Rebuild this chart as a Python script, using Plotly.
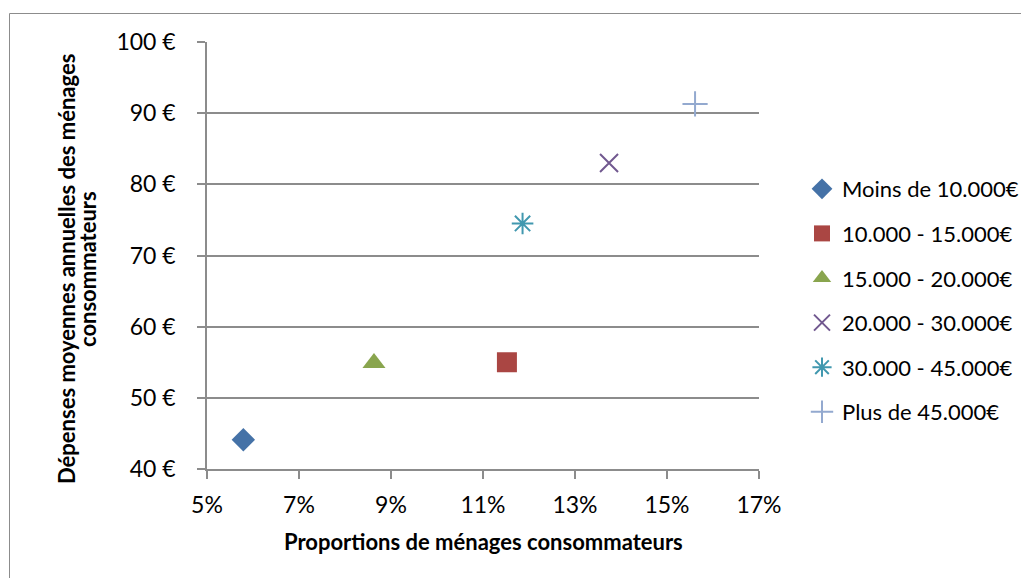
import plotly.graph_objects as go

# Data
series_names = ["Moins de 10.000€", "10.000 - 15.000€", "15.000 - 20.000€",
                "20.000 - 30.000€", "30.000 - 45.000€", "Plus de 45.000€"]
proportions = [5.79, 11.52, 8.63, 13.74, 11.86, 15.61]   # %
depenses = [44.1, 55.0, 54.9, 83.0, 74.5, 91.3]          # €
colors = ["#4572A7", "#AA4643", "#89A54E", "#71588F", "#4198AF", "#93A9CF"]
symbols = ["diamond", "square", "triangle-up", "x-thin-open", "asterisk-open", "cross-thin-open"]
sizes = [18, 20, 20, 18, 18, 18]
x_ticks = [5, 7, 9, 11, 13, 15, 17]
y_ticks = [40, 50, 60, 70, 80, 90, 100]

OFF = 8  # page body margin
W, H = 1029 - OFF, 578 - OFF
# plot area in reference pixel coords: x 207..759, y 42..469
L, T = 207 - OFF, 42 - OFF
R = W - (759 - OFF)
B = H - (469 - OFF)
pw, ph = W - L - R, H - T - B

def px_x(p):  # reference pixel -> paper
    return (p - OFF - L) / pw

def px_y(p):
    return (H - B - (p - OFF)) / ph

fig = go.Figure()
for i, name in enumerate(series_names):
    fig.add_trace(go.Scatter(
        x=[proportions[i]], y=[depenses[i]], mode="markers", name=name,
        legendgroup=name,
        marker=dict(symbol=symbols[i], size=sizes[i], color=colors[i],
                    line=dict(color=colors[i], width=2 if i >= 3 else 0)),
    ))

grey = "#8C8C8C"
font_family = "Lato, 'Open Sans', sans-serif"
title_font = dict(size=22, family=font_family, color="black")

fig.update_layout(
    width=W, height=H,
    margin=dict(l=L, r=R, t=T, b=B, autoexpand=False),
    paper_bgcolor="white", plot_bgcolor="white",
    font=dict(family=font_family, color="black"),
    showlegend=True,
    legend=dict(x=px_x(802), y=px_y(168), xanchor="left", yanchor="top",
                font=dict(size=22, family=font_family), tracegroupgap=13,
                bgcolor="rgba(0,0,0,0)", itemsizing="trace"),
    xaxis=dict(range=[5, 17], tickvals=x_ticks, ticktext=[f"{v}%" for v in x_ticks],
               showgrid=False, zeroline=False, showline=True, linecolor=grey, linewidth=1.5,
               ticks="outside", ticklen=8, tickcolor=grey, tickwidth=1.5,
               tickfont=dict(size=23), ticklabelstandoff=7),
    yaxis=dict(range=[40, 100], tickvals=y_ticks, ticktext=[f"{v} €" for v in y_ticks],
               showgrid=True, gridcolor=grey, gridwidth=1.5, zeroline=False,
               showline=True, linecolor=grey, linewidth=1.5,
               ticks="outside", ticklen=8, tickcolor=grey, tickwidth=1.5,
               tickfont=dict(size=23), ticklabelstandoff=17),
    annotations=[
        dict(text="<b>Proportions de ménages consommateurs</b>", xref="paper", yref="paper",
             x=0.5, y=px_y(541), xanchor="center", yanchor="middle", showarrow=False,
             font=title_font),
        dict(text="<b>Dépenses moyennes annuelles des ménages</b>", xref="paper", yref="paper",
             x=px_x(66), y=px_y(269), xanchor="center", yanchor="middle", showarrow=False,
             textangle=-90, font=title_font),
        dict(text="<b>consommateurs</b>", xref="paper", yref="paper",
             x=px_x(87), y=px_y(269), xanchor="center", yanchor="middle", showarrow=False,
             textangle=-90, font=title_font),
    ],
    shapes=[dict(type="rect", xref="paper", yref="paper",
                 x0=px_x(9.5), x1=px_x(1045), y0=px_y(13.5), y1=px_y(600),
                 line=dict(color=grey, width=1), fillcolor="rgba(0,0,0,0)", layer="below")],
)

fig.write_html("out.html")
